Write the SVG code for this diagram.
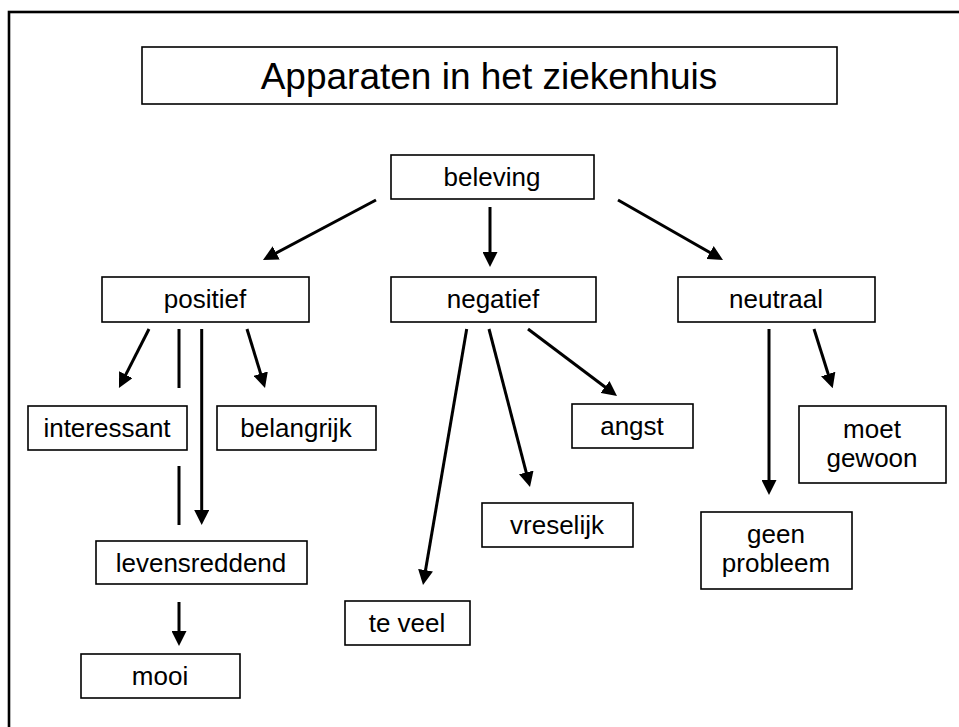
<svg xmlns="http://www.w3.org/2000/svg" width="959" height="727" viewBox="0 0 959 727">
<style>
  .box { fill: #fff; stroke: #000; stroke-width: 1.6; }
  .lbl { font-family: "Liberation Sans", Arial, sans-serif; font-size: 26px; fill: #000; text-anchor: middle; }
  .title { font-family: "Liberation Sans", Arial, sans-serif; font-size: 37px; fill: #000; text-anchor: middle; }
  .edge { stroke: #000; stroke-width: 3; fill: none; }
</style>
<defs>
  <marker id="ah" viewBox="0 0 15 15" markerWidth="15" markerHeight="15" refX="5" refY="7.5" orient="auto" markerUnits="userSpaceOnUse">
    <path d="M0,0 L15,7.5 L0,15 z" fill="#000"/>
  </marker>
</defs>
<rect x="0" y="0" width="959" height="727" fill="#fff"/>
<rect id="frame" x="9" y="12" width="1000" height="800" fill="none" stroke="#000" stroke-width="2.6"/>

<g id="title"><rect class="box" x="142" y="47" width="695" height="57"/><text class="title" x="489" y="89">Apparaten in het ziekenhuis</text></g>
<g id="beleving"><rect class="box" x="391" y="155" width="203" height="44"/><text class="lbl" x="492" y="186">beleving</text></g>
<g id="positief"><rect class="box" x="102" y="277" width="207" height="45"/><text class="lbl" x="205" y="308">positief</text></g>
<g id="negatief"><rect class="box" x="391" y="277" width="205" height="45"/><text class="lbl" x="493" y="308">negatief</text></g>
<g id="neutraal"><rect class="box" x="678" y="277" width="197" height="45"/><text class="lbl" x="776" y="308">neutraal</text></g>
<g id="interessant"><rect class="box" x="28" y="406" width="159" height="44"/><text class="lbl" x="107" y="437">interessant</text></g>
<g id="belangrijk"><rect class="box" x="217" y="406" width="159" height="44"/><text class="lbl" x="296" y="437">belangrijk</text></g>
<g id="angst"><rect class="box" x="572" y="404" width="121" height="44"/><text class="lbl" x="632" y="435">angst</text></g>
<g id="moet-gewoon"><rect class="box" x="799" y="406" width="147" height="77"/><text class="lbl" x="872" y="438">moet</text><text class="lbl" x="872" y="467">gewoon</text></g>
<g id="vreselijk"><rect class="box" x="482" y="503" width="151" height="44"/><text class="lbl" x="557" y="534">vreselijk</text></g>
<g id="geen-probleem"><rect class="box" x="701" y="512" width="151" height="77"/><text class="lbl" x="776" y="543">geen</text><text class="lbl" x="776" y="572">probleem</text></g>
<g id="levensreddend"><rect class="box" x="96" y="541" width="211" height="43"/><text class="lbl" x="201" y="572">levensreddend</text></g>
<g id="te-veel"><rect class="box" x="345" y="601" width="125" height="44"/><text class="lbl" x="407" y="632">te veel</text></g>
<g id="mooi"><rect class="box" x="81" y="654" width="159" height="44"/><text class="lbl" x="160" y="685">mooi</text></g>

<g id="connectors">
  <line class="edge" x1="376" y1="200" x2="271.8" y2="255.3" marker-end="url(#ah)"/>
  <line class="edge" x1="490" y1="207" x2="490" y2="257" marker-end="url(#ah)"/>
  <line class="edge" x1="618" y1="200" x2="714.3" y2="255" marker-end="url(#ah)"/>
  <line class="edge" x1="149" y1="329" x2="123.5" y2="379.1" marker-end="url(#ah)"/>
  <line class="edge" x1="179" y1="329" x2="179" y2="388"/>
  <line class="edge" x1="201.7" y1="329" x2="201.7" y2="515" marker-end="url(#ah)"/>
  <line class="edge" x1="247" y1="329" x2="262.1" y2="378.4" marker-end="url(#ah)"/>
  <line class="edge" x1="179" y1="466" x2="179" y2="525"/>
  <line class="edge" x1="179" y1="602" x2="179" y2="636" marker-end="url(#ah)"/>
  <line class="edge" x1="466.7" y1="329" x2="424.7" y2="575.1" marker-end="url(#ah)"/>
  <line class="edge" x1="489" y1="329" x2="527.5" y2="477.3" marker-end="url(#ah)"/>
  <line class="edge" x1="528" y1="329" x2="609" y2="390" marker-end="url(#ah)"/>
  <line class="edge" x1="769" y1="329" x2="769" y2="485" marker-end="url(#ah)"/>
  <line class="edge" x1="814" y1="329" x2="829.7" y2="378.8" marker-end="url(#ah)"/>
</g>
</svg>
